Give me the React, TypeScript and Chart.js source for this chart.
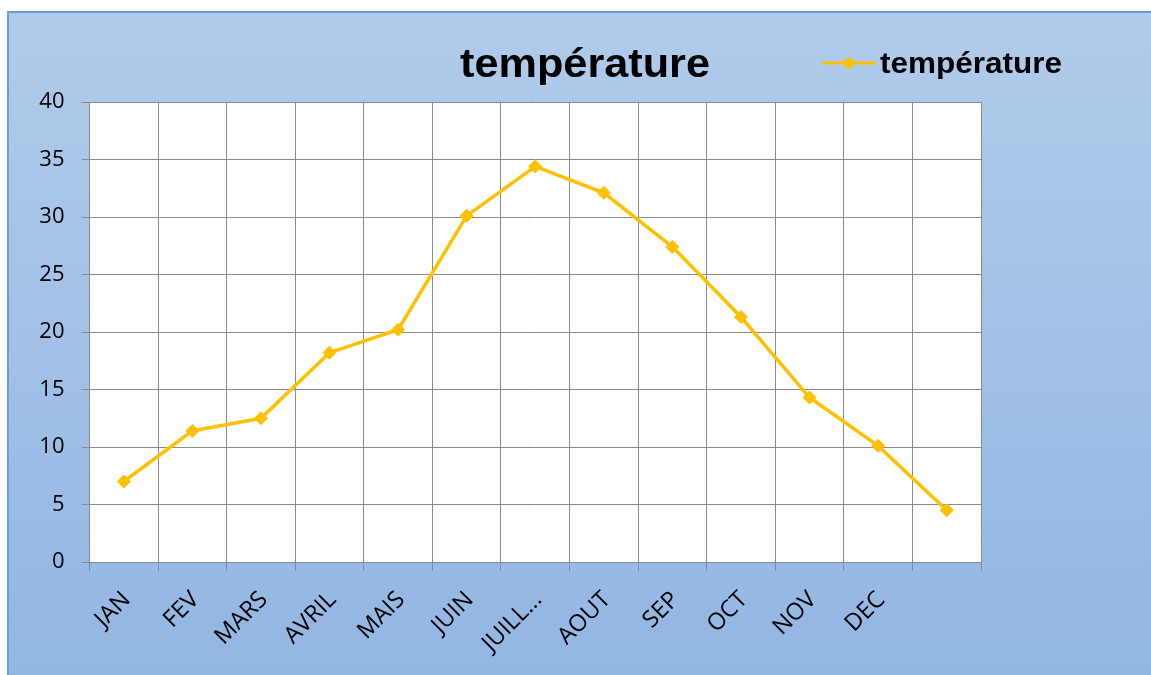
import React, { useEffect, useRef } from 'react';
import { Chart, registerables } from 'chart.js';

Chart.register(...registerables);

const categories: string[] = ['JAN', 'FEV', 'MARS', 'AVRIL', 'MAIS', 'JUIN', 'JUILL...', 'AOUT', 'SEP', 'OCT', 'NOV', 'DEC', ''];
const temperature: number[] = [7.0, 11.4, 12.5, 18.2, 20.2, 30.1, 34.4, 32.1, 27.4, 21.3, 14.3, 10.1, 4.5];
const yMin = 0;
const yMax = 40;
const yStep = 5;
const titleText = 'température';
const seriesLabel = 'température';

const LINE_COLOR = '#FFC000';
const GRID_COLOR = '#8a8a8a';

const W = 1151;
const H = 675;

const backgroundPlugin = {
  id: 'bgPlugin',
  beforeDraw(chart: any) {
    const { ctx, chartArea } = chart;
    ctx.save();
    ctx.fillStyle = '#ffffff';
    ctx.fillRect(0, 0, W, H);
    const g = ctx.createLinearGradient(0, 12, 0, H);
    g.addColorStop(0, '#b1cbea');
    g.addColorStop(1, '#92b7e3');
    ctx.fillStyle = g;
    ctx.fillRect(7, 11, W - 7, H - 11);
    ctx.strokeStyle = '#6b9ed8';
    ctx.lineWidth = 2;
    ctx.beginPath();
    ctx.moveTo(8, H);
    ctx.lineTo(8, 12);
    ctx.lineTo(W, 12);
    ctx.stroke();
    ctx.fillStyle = '#ffffff';
    ctx.fillRect(chartArea.left, chartArea.top, chartArea.right - chartArea.left, chartArea.bottom - chartArea.top);
    ctx.restore();
  },
};

function drawStretched(ctx: CanvasRenderingContext2D, text: string, font: string, x: number, y: number, targetW: number, align: 'left' | 'center') {
  ctx.save();
  ctx.font = font;
  const w = ctx.measureText(text).width;
  const sx = targetW / w;
  ctx.translate(x, y);
  ctx.scale(sx, 1);
  ctx.textBaseline = 'alphabetic';
  ctx.textAlign = align;
  ctx.fillStyle = '#000000';
  ctx.fillText(text, 0, 0);
  ctx.restore();
}

const titleLegendPlugin = {
  id: 'titleLegend',
  afterDraw(chart: any) {
    const ctx: CanvasRenderingContext2D = chart.ctx;
    drawStretched(ctx, titleText, 'bold 40px "Liberation Sans", Arial, sans-serif', 585, 77, 250, 'center');
    const ds = chart.data.datasets[0];
    ctx.save();
    ctx.strokeStyle = ds.borderColor;
    ctx.lineWidth = 3;
    ctx.beginPath();
    ctx.moveTo(822, 63);
    ctx.lineTo(876, 63);
    ctx.stroke();
    ctx.fillStyle = ds.pointBackgroundColor;
    ctx.beginPath();
    ctx.moveTo(849, 56.5);
    ctx.lineTo(855.5, 63);
    ctx.lineTo(849, 69.5);
    ctx.lineTo(842.5, 63);
    ctx.closePath();
    ctx.fill();
    ctx.restore();
    drawStretched(ctx, ds.label, 'bold 29px "Liberation Sans", Arial, sans-serif', 880, 73, 182, 'left');
  },
};

export default function App() {
  const ref = useRef<HTMLCanvasElement | null>(null);

  useEffect(() => {
    if (!ref.current) return;
    const yFont = { family: '"Open Sans", sans-serif', size: 22 };
    const xFont = { family: '"Open Sans", sans-serif', size: 23.5 };
    const chart = new Chart(ref.current, {
      type: 'line',
      data: {
        labels: categories,
        datasets: [
          {
            label: seriesLabel,
            data: temperature,
            borderColor: LINE_COLOR,
            backgroundColor: LINE_COLOR,
            borderWidth: 3.5,
            tension: 0,
            pointStyle: 'rectRot',
            pointRadius: 6.5,
            pointBackgroundColor: LINE_COLOR,
            pointBorderColor: LINE_COLOR,
            pointBorderWidth: 1,
            fill: false,
          },
        ],
      },
      options: {
        responsive: false,
        animation: false,
        devicePixelRatio: 1,
        layout: { padding: { top: 102, right: 170, left: 0, bottom: 0 } },
        plugins: {
          legend: { display: false },
          title: { display: false },
          tooltip: { enabled: false },
        },
        scales: {
          x: {
            type: 'category',
            offset: true,
            grid: { offset: true, color: GRID_COLOR, lineWidth: 1, tickLength: 9, drawOnChartArea: true },
            border: { color: GRID_COLOR, width: 1 },
            ticks: {
              autoSkip: false,
              maxRotation: 45,
              minRotation: 45,
              font: xFont,
              color: '#000000',
              padding: 15,
              labelOffset: 3,
            },
            afterFit: (s: any) => {
              s.height = 113;
            },
          },
          y: {
            min: yMin,
            max: yMax,
            grid: { color: GRID_COLOR, lineWidth: 1, tickLength: 8 },
            border: { color: GRID_COLOR, width: 1 },
            ticks: { stepSize: yStep, font: yFont, color: '#000000', padding: 17 },
            afterFit: (s: any) => {
              s.width = 89.5;
            },
          },
        },
      },
      plugins: [backgroundPlugin, titleLegendPlugin],
    } as any);
    return () => chart.destroy();
  }, []);

  return (
    <div style={{ position: 'fixed', left: 0, top: 0, width: W, height: H }}>
      <canvas ref={ref} width={W} height={H} style={{ display: 'block' }} />
    </div>
  );
}
